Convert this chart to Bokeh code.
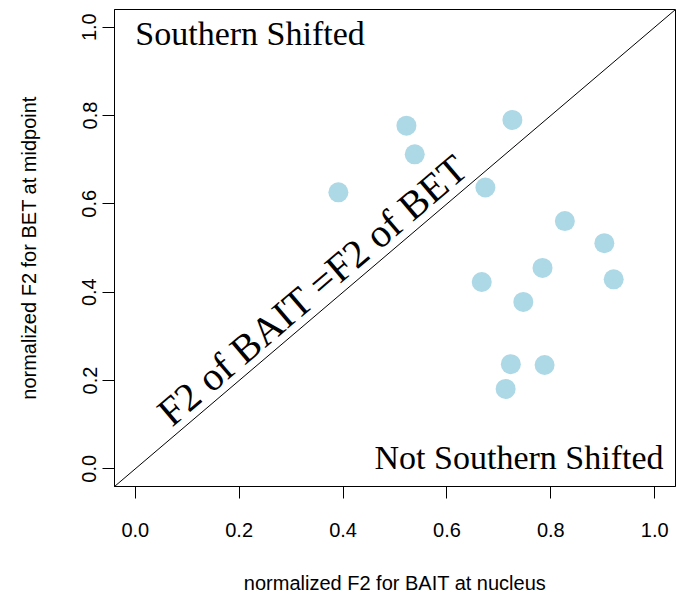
from bokeh.plotting import figure
from bokeh.models import Range1d, FixedTicker
from bokeh.core.properties import value
from bokeh.embed import file_html
from bokeh.resources import INLINE

# data
bait_nucleus = [0.391, 0.522, 0.538, 0.726, 0.674, 0.827, 0.903, 0.921,
                0.784, 0.667, 0.747, 0.723, 0.788, 0.713]
bet_midpoint = [0.626, 0.777, 0.712, 0.790, 0.637, 0.561, 0.511, 0.429,
                0.455, 0.423, 0.378, 0.237, 0.235, 0.181]
tick_values = [0.0, 0.2, 0.4, 0.6, 0.8, 1.0]
tick_labels = ["0.0", "0.2", "0.4", "0.6", "0.8", "1.0"]
diag_x = [-0.04, 1.04]
diag_y = [-0.04, 1.04]

p = figure(width=680, height=596, output_backend="svg", toolbar_location=None,
           x_range=Range1d(-0.04, 1.04), y_range=Range1d(-0.04, 1.04),
           min_border_left=114, min_border_right=5, min_border_top=9,
           min_border_bottom=108)
p.background_fill_color = "white"
p.border_fill_color = "white"
p.outline_line_color = "black"
p.outline_line_width = 1
p.grid.visible = False

p.line(diag_x, diag_y, line_color="black", line_width=1)
p.scatter(bait_nucleus, bet_midpoint, size=20, fill_color="#ADD8E6",
          line_color=None)

p.text(x=[0.0], y=[0.985], text=["Southern Shifted"], text_align="left",
       text_baseline="middle", text_font=value("Liberation Serif"),
       text_font_size="34px", text_color="black")
p.text(x=[1.017], y=[0.026], text=["Not Southern Shifted"], text_align="right",
       text_baseline="middle", text_font=value("Liberation Serif"),
       text_font_size="34px", text_color="black")
p.text(x=[0.341], y=[0.405], text=["F2 of BAIT =F2 of BET"], text_align="center",
       text_baseline="middle", text_font=value("Liberation Serif"),
       text_font_size="40px", text_color="black", angle=0.707)

for ax in (p.xaxis[0], p.yaxis[0]):
    ax.ticker = FixedTicker(ticks=tick_values)
    ax.major_label_overrides = {v: s for v, s in zip(tick_values, tick_labels)}
    ax.major_tick_out = 12
    ax.major_tick_in = 0
    ax.minor_tick_line_color = None
    ax.axis_line_color = "black"
    ax.major_tick_line_color = "black"
    ax.major_label_text_font = "Liberation Sans"
    ax.major_label_text_font_size = "20px"
    ax.major_label_text_color = "black"
    ax.axis_label_text_font = "Liberation Sans"
    ax.axis_label_text_font_size = "20px"
    ax.axis_label_text_font_style = "normal"
    ax.axis_label_text_color = "black"

p.xaxis.axis_label = "normalized F2 for BAIT at nucleus"
p.yaxis.axis_label = "normalized F2 for BET at midpoint"
p.xaxis.major_label_standoff = 24
p.xaxis.axis_label_standoff = 32
p.yaxis.major_label_orientation = "vertical"
p.yaxis.major_label_standoff = 6
p.yaxis.axis_label_standoff = 40

open("out.html", "w").write(file_html(p, INLINE))
